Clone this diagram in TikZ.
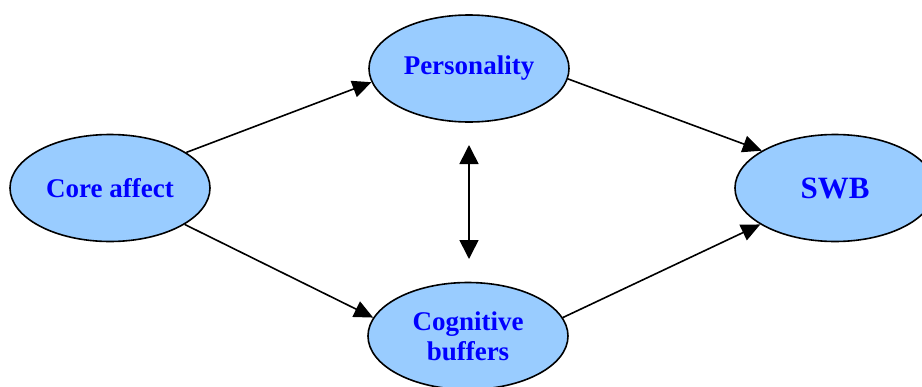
\documentclass[tikz,border=0pt]{standalone}
\usepackage{fontspec}
\setmainfont{Liberation Serif}
\usetikzlibrary{arrows.meta,shapes.geometric}
\definecolor{ovalfill}{RGB}{153,204,255}
\definecolor{labelblue}{RGB}{0,0,255}
\tikzset{
  oval/.style={ellipse, draw=black, line width=1.6pt, fill=ovalfill,
    minimum width=200pt, minimum height=107pt, inner sep=0pt,
    text=labelblue, align=center,
    font=\bfseries\fontsize{27}{30}\selectfont},
  link/.style={line width=1.6pt, -{Triangle[length=19pt,width=17pt]}},
  twoway/.style={line width=1.6pt, {Triangle[length=19pt,width=19pt]}-{Triangle[length=19pt,width=19pt]}}
}
\begin{document}
\begin{tikzpicture}[x=1pt,y=1pt]
  \useasboundingbox (0,0) rectangle (922,-386);
  \clip (0,0) rectangle (922,-386);
  % the four constructs
  \node[oval] (core) at (110,-188) {Core affect};
  \node[oval] (pers) at (469,-68.5) {Personality};
  \node[oval] (cog)  at (468,-336) {Cognitive\\buffers};
  \node[oval, font=\bfseries\fontsize{31}{34}\selectfont] (swb) at (835,-188) {SWB};
  % paths of influence
  \draw[link] (core.25.6) -- (pers.188.6);
  \draw[link] (core.-26.9) -- (cog.169.3);
  \draw[link] (pers.-6.7) -- (swb.153.1);
  \draw[link] (cog.11.4) -- (swb.206.6);
  % reciprocal link between personality and cognitive buffers
  \coordinate (up) at (469,-145);
  \coordinate (down) at (469,-259);
  \draw[twoway] (up) -- (down);
\end{tikzpicture}
\end{document}
